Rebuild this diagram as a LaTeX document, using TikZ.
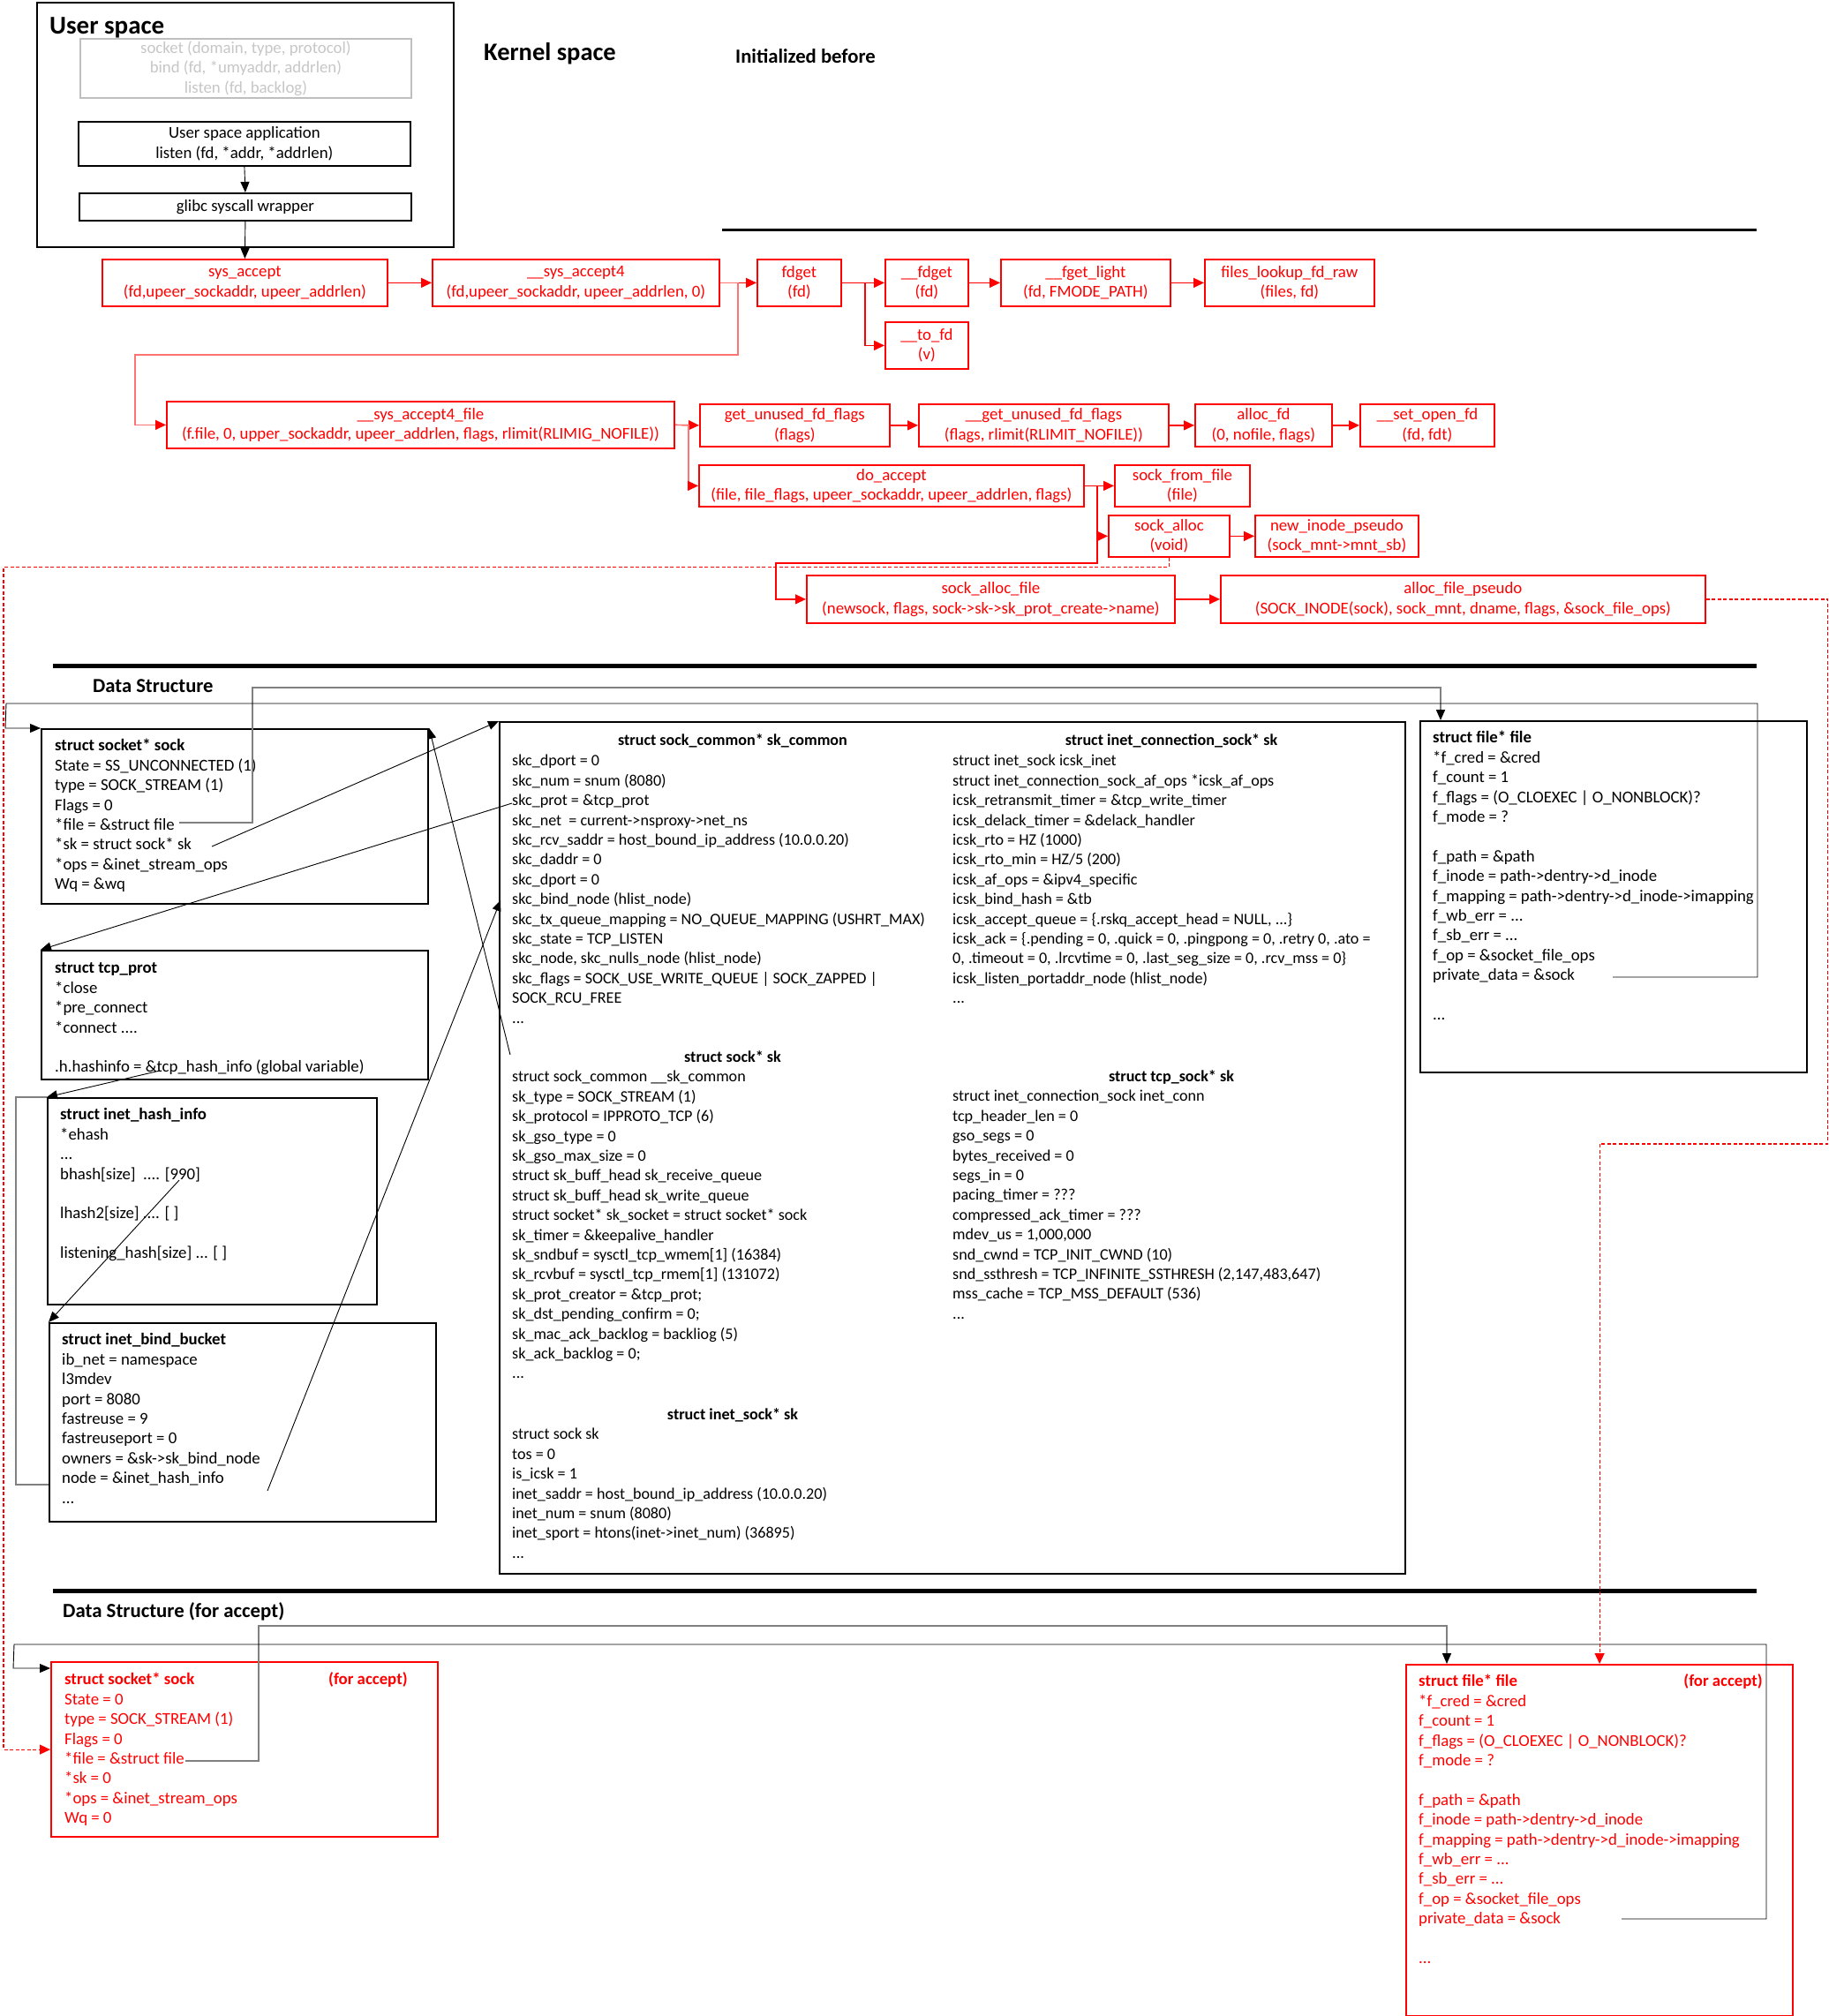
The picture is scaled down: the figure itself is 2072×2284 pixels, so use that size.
\documentclass[tikz,border=0pt]{standalone}
\usepackage{fontspec}
\setmainfont{Carlito}
\usepackage{tikz}
\usetikzlibrary{arrows.meta,calc}

\newcommand\fs{\fontsize{18.8}{22.4}\selectfont}
\newcommand\fsk{\fontsize{18.1}{22.4}\selectfont}

\begin{document}
\begin{tikzpicture}[x=1pt,y=-1pt,
		fn/.style={draw=red,line width=1.8pt,text=red,font=\fs,align=center,inner sep=0pt,anchor=north west},
		ub/.style={draw=black,line width=1.8pt,font=\fs,align=center,inner sep=0pt,anchor=north west},
		db/.style={draw=black,line width=2.2pt,inner sep=0pt,anchor=north west},
		wh/.style 2 args={minimum width=#1,minimum height=#2},
		tx/.style={font=\fs,align=left,inner sep=0pt,anchor=north west},
		txk/.style={font=\fsk,align=left,inner sep=0pt,anchor=north west},
		hdk/.style={font=\fsk\bfseries,inner sep=0pt},
		ar/.style={black,line width=0.9pt,-{Triangle[length=12pt,width=10pt]}},
		call/.style={red,line width=1.4pt,-{Triangle[length=12pt,width=11pt]}},
		callp/.style={red!55,line width=1.4pt,-{Triangle[length=12pt,width=11pt,color=red,fill=red]}},
		dsh/.style={red,line width=1.2pt,dash pattern=on 4pt off 2.5pt,-{Triangle[length=12pt,width=11pt]}},
		ptr/.style={black,line width=0.9pt,-{Triangle[length=12pt,width=10pt]}},
		gptr/.style={gray,line width=1.6pt,-{Triangle[length=12pt,width=10pt,color=black,fill=black]}}]
		\fill[white] (0,0) rectangle (2072,2284);
		\useasboundingbox (0,0) rectangle (2072,2284);

		\node[draw,line width=1.8pt,inner sep=0pt,anchor=north west,wh={472}{277}] (userbox) at (41,2) {};
		\node[anchor=west,inner sep=0pt,font=\fontsize{29}{34}\selectfont\bfseries] (ustitle) at (56,31) {User space};
		\node[draw=black!25,line width=1.8pt,text=black!22,font=\fs,align=center,inner sep=0pt,anchor=north west,wh={375}{67}] (sysseq) at (90,43) {socket (domain, type, protocol)\\bind (fd, *umyaddr, addrlen)\\listen (fd, backlog)};
		\node[ub,wh={376}{50}] (usapp) at (88,137) {User space application\\listen (fd, *addr, *addrlen)};
		\node[ub,wh={376}{31}] (glibc) at (89,218) {glibc syscall wrapper};
		\node[anchor=west,inner sep=0pt,font=\fontsize{28.5}{34}\selectfont\bfseries] (kstitle) at (548,61) {Kernel space};
		\node[anchor=west,inner sep=0pt,font=\fontsize{22.7}{27}\selectfont\bfseries] (inittitle) at (833,64) {Initialized before};
		\draw[line width=3pt] (818,260) -- (1990,260);

		\node[fn,wh={323}{53}] (sysacc) at (115,293) {sys\_accept\\(fd,upeer\_sockaddr, upeer\_addrlen)};
		\node[fn,wh={325}{53}] (sysacc4) at (489,293) {\_\_sys\_accept4\\(fd,upeer\_sockaddr, upeer\_addrlen, 0)};
		\node[fn,wh={95}{53}] (fdget) at (857,293) {fdget\\(fd)};
		\node[fn,wh={94}{53}] (ufdget) at (1002,293) {\_\_fdget\\(fd)};
		\node[fn,wh={94}{53}] (tofd) at (1002,364) {\_\_to\_fd\\(v)};
		\node[fn,wh={192}{53}] (fgetlight) at (1133,293) {\_\_fget\_light\\(fd, FMODE\_PATH)};
		\node[fn,wh={192}{53}] (lookup) at (1364,293) {files\_lookup\_fd\_raw\\(files, fd)};
		\node[fn,wh={575}{53}] (accfile) at (188,454) {\_\_sys\_accept4\_file\\(f.file, 0, upper\_sockaddr, upeer\_addrlen, flags, rlimit(RLIMIG\_NOFILE))};
		\node[fn,wh={215}{48}] (getfd) at (792,457) {get\_unused\_fd\_flags\\(flags)};
		\node[fn,wh={283}{48}] (ugetfd) at (1040,457) {\_\_get\_unused\_fd\_flags\\(flags, rlimit(RLIMIT\_NOFILE))};
		\node[fn,wh={155}{48}] (allocfd) at (1353,457) {alloc\_fd\\(0, nofile, flags)};
		\node[fn,wh={152}{48}] (setopen) at (1540,457) {\_\_set\_open\_fd\\(fd, fdt)};
		\node[fn,wh={436}{47}] (doacc) at (791,526) {do\_accept\\(file, file\_flags, upeer\_sockaddr, upeer\_addrlen, flags)};
		\node[fn,wh={153}{47}] (fromfile) at (1262,526) {sock\_from\_file\\(file)};
		\node[fn,wh={137}{47}] (sockalloc) at (1255,583) {sock\_alloc\\(void)};
		\node[fn,wh={185}{47}] (newinode) at (1421,583) {new\_inode\_pseudo\\(sock\_mnt->mnt\_sb)};
		\node[fn,wh={417}{54}] (allocfile) at (913,651) {sock\_alloc\_file\\(newsock, flags, sock->sk->sk\_prot\_create->name)};
		\node[fn,wh={549}{54}] (pseudo) at (1382,651) {alloc\_file\_pseudo\\(SOCK\_INODE(sock), sock\_mnt, dname, flags, \&sock\_file\_ops)};

		\draw[ar] (usapp.south) -- (glibc.north);
		\draw[ar] (glibc.south) -- (sysacc.north);
		\draw[call] (sysacc.east) -- (sysacc4.west);
		\draw[call] (sysacc4.east) -- (fdget.west);
		\draw[call] (fdget.east) -- (ufdget.west);
		\draw[call] (fdget.east) -- ++(26,0) |- (tofd.west);
		\draw[call] (ufdget.east) -- (fgetlight.west);
		\draw[call] (fgetlight.east) -- (lookup.west);
		\draw[callp] (sysacc4.east) -- ++(20,0) -- ++(0,81.5) -- ++(-683,0) |- (accfile.west);
		\draw[call] (accfile.east) -- (getfd.west);
		\draw[callp] (accfile.east) -- ++(15,0) |- (doacc.west);
		\draw[call] (getfd.east) -- (ugetfd.west);
		\draw[call] (ugetfd.east) -- (allocfd.west);
		\draw[call] (allocfd.east) -- (setopen.west);
		\draw[call] (doacc.east) -- (fromfile.west);
		\draw[call] (doacc.east) -- ++(14,0) |- (sockalloc.west);
		\draw[call] (doacc.east) -- ++(14,0) -- ++(0,87.5) -- ++(-364,0) |- (allocfile.west);
		\draw[call] (sockalloc.east) -- (newinode.west);
		\draw[call] (allocfile.east) -- (pseudo.west);

		\draw[line width=5pt] (60,754) -- (1990,754);
		\node[anchor=west,inner sep=0pt,font=\fontsize{22.6}{27}\selectfont\bfseries] (dstitle) at (105,777) {Data Structure};

		\node[db,wh={438}{198}] (sock) at (46,825) {};
		\node[tx] (socktx) at (62,835) {\strut\textbf{struct socket* sock}\\State = SS\_UNCONNECTED (1)\\type = SOCK\_STREAM (1)\\Flags = 0\\{}*file = \&struct file\\{}*sk = struct sock* sk\\{}*ops = \&inet\_stream\_ops\\Wq = \&wq};
		\node[db,wh={438}{146}] (tcpprot) at (46,1076) {};
		\node[tx] (tcptx) at (62,1087) {\strut\textbf{struct tcp\_prot}\\{}*close\\{}*pre\_connect\\{}*connect ....\\ \\.h.hashinfo = \&tcp\_hash\_info (global variable)};
		\node[db,wh={373}{234}] (hash) at (53,1243) {};
		\node[tx] (hashtx) at (68,1253) {\strut\textbf{struct inet\_hash\_info}\\{}*ehash\\...\\bhash[size]~ .... [990]\\ \\lhash2[size] .... [ ]\\ \\listening\_hash[size] ... [ ]};
		\node[db,wh={438}{225}] (bucket) at (55,1498) {};
		\node[tx] (buckettx) at (70,1508) {\strut\textbf{struct inet\_bind\_bucket}\\ib\_net = namespace\\l3mdev\\port = 8080\\fastreuse = 9\\fastreuseport = 0\\owners = \&sk->sk\_bind\_node\\node = \&inet\_hash\_info\\...};

		\node[db,wh={1026}{965}] (big) at (565,817) {};
		\node[hdk] (cmnhd) at (830,839) {struct sock\_common* sk\_common};
		\node[txk] (cmntx) at (580,852) {\strut skc\_dport = 0\\skc\_num = snum (8080)\\skc\_prot = \&tcp\_prot\\skc\_net~ = current->nsproxy->net\_ns\\skc\_rcv\_saddr = host\_bound\_ip\_address (10.0.0.20)\\skc\_daddr = 0\\skc\_dport = 0\\skc\_bind\_node (hlist\_node)\\skc\_tx\_queue\_mapping = NO\_QUEUE\_MAPPING (USHRT\_MAX)\\skc\_state = TCP\_LISTEN\\skc\_node, skc\_nulls\_node (hlist\_node)\\skc\_flags = SOCK\_USE\_WRITE\_QUEUE | SOCK\_ZAPPED |\\SOCK\_RCU\_FREE\\...};
		\node[hdk] (icskhd) at (1327,839) {struct inet\_connection\_sock* sk};
		\node[txk] (icsktx) at (1079,852) {\strut struct inet\_sock icsk\_inet\\struct inet\_connection\_sock\_af\_ops *icsk\_af\_ops\\icsk\_retransmit\_timer = \&tcp\_write\_timer\\icsk\_delack\_timer = \&delack\_handler\\icsk\_rto = HZ (1000)\\icsk\_rto\_min = HZ/5 (200)\\icsk\_af\_ops = \&ipv4\_specific\\icsk\_bind\_hash = \&tb\\icsk\_accept\_queue = \{.rskq\_accept\_head = NULL, ...\}\\icsk\_ack = \{.pending = 0, .quick = 0, .pingpong = 0, .retry 0, .ato =\\0, .timeout = 0, .lrcvtime = 0, .last\_seg\_size = 0, .rcv\_mss = 0\}\\icsk\_listen\_portaddr\_node (hlist\_node)\\...};
		\node[hdk] (skhd) at (830,1197) {struct sock* sk};
		\node[txk] (sktx) at (580,1210) {\strut struct sock\_common \_\_sk\_common\\sk\_type = SOCK\_STREAM (1)\\sk\_protocol = IPPROTO\_TCP (6)\\sk\_gso\_type = 0\\sk\_gso\_max\_size = 0\\struct sk\_buff\_head sk\_receive\_queue\\struct sk\_buff\_head sk\_write\_queue\\struct socket* sk\_socket = struct socket* sock\\sk\_timer = \&keepalive\_handler\\sk\_sndbuf = sysctl\_tcp\_wmem[1] (16384)\\sk\_rcvbuf = sysctl\_tcp\_rmem[1] (131072)\\sk\_prot\_creator = \&tcp\_prot;\\sk\_dst\_pending\_confirm = 0;\\sk\_mac\_ack\_backlog = backliog (5)\\sk\_ack\_backlog = 0;\\...};
		\node[hdk] (tcpskhd) at (1327,1220) {struct tcp\_sock* sk};
		\node[txk] (tcpsktx) at (1079,1232) {\strut struct inet\_connection\_sock inet\_conn\\tcp\_header\_len = 0\\gso\_segs = 0\\bytes\_received = 0\\segs\_in = 0\\pacing\_timer = ???\\compressed\_ack\_timer = ???\\mdev\_us = 1,000,000\\snd\_cwnd = TCP\_INIT\_CWND (10)\\snd\_ssthresh = TCP\_INFINITE\_SSTHRESH (2,147,483,647)\\mss\_cache = TCP\_MSS\_DEFAULT (536)\\...};
		\node[hdk] (inethd) at (830,1603) {struct inet\_sock* sk};
		\node[txk] (inettx) at (580,1615) {\strut struct sock sk\\tos = 0\\is\_icsk = 1\\inet\_saddr = host\_bound\_ip\_address (10.0.0.20)\\inet\_num = snum (8080)\\inet\_sport = htons(inet->inet\_num) (36895)\\...};

		\node[db,wh={438}{398}] (file) at (1608,816) {};
		\node[tx] (filetx) at (1623,826) {\strut\textbf{struct file* file}\\{}*f\_cred = \&cred\\f\_count = 1\\f\_flags = (O\_CLOEXEC | O\_NONBLOCK)?\\f\_mode = ?\\ \\f\_path = \&path\\f\_inode = path->dentry->d\_inode\\f\_mapping = path->dentry->d\_inode->imapping\\f\_wb\_err = ...\\f\_sb\_err = ...\\f\_op = \&socket\_file\_ops\\private\_data = \&sock\\ \\...};

		\coordinate (sfile) at (203,932);
		\coordinate (filetop) at (1632,816);
		\coordinate (fpriv) at (1827,1107);
		\coordinate (sksk) at (240,959);
		\coordinate (skcprot) at (580,910);
		\coordinate (hinfo) at (181,1213);
		\coordinate (bhash) at (203,1337);
		\coordinate (bnode) at (55,1682);
		\coordinate (owners) at (303,1689);
		\coordinate (bindnode) at (567,1020);
		\coordinate (sksock) at (578,1195);
		\draw[gptr] (sfile) -- (286,932) -- (286,779) -| (filetop);
		\draw[ptr] (fpriv) -- (1991,1107) -- (1991,797) -- (7,797) -- (6,825) -- (sock.north west);
		\draw[ptr] (sksk) -- (big.north west);
		\draw[ptr] (skcprot) -- (tcpprot.north west);
		\draw[ptr] (hinfo) -- (hash.north west);
		\draw[ptr] (bhash) -- (bucket.north west);
		\draw[gray,line width=1.6pt] (bnode) -- (18,1682) -- (18,1243) -- (hash.north west);
		\draw[ptr] (owners) -- (bindnode);
		\draw[ptr] (sksock) -- (sock.north east);

		\draw[line width=5pt] (60,1802) -- (1990,1802);
		\node[anchor=west,inner sep=0pt,font=\fontsize{22.8}{27}\selectfont\bfseries] (datitle) at (71,1826) {Data Structure (for accept)};

		\node[db,draw=red,wh={438}{198}] (sockacc) at (57,1882) {};
		\node[tx,text=red] (asocktx) at (73,1893) {\strut\textbf{struct socket* sock}\\State = 0\\type = SOCK\_STREAM (1)\\Flags = 0\\{}*file = \&struct file\\{}*sk = 0\\{}*ops = \&inet\_stream\_ops\\Wq = 0};
		\node[anchor=west,inner sep=0pt,text=red,font=\fs\bfseries] (asockfa) at (372,1903) {(for accept)};
		\node[db,draw=red,wh={438}{398}] (fileacc) at (1592,1885) {};
		\node[tx,text=red] (afiletx) at (1607,1895) {\strut\textbf{struct file* file}\\{}*f\_cred = \&cred\\f\_count = 1\\f\_flags = (O\_CLOEXEC | O\_NONBLOCK)?\\f\_mode = ?\\ \\f\_path = \&path\\f\_inode = path->dentry->d\_inode\\f\_mapping = path->dentry->d\_inode->imapping\\f\_wb\_err = ...\\f\_sb\_err = ...\\f\_op = \&socket\_file\_ops\\private\_data = \&sock\\ \\...};
		\node[anchor=east,inner sep=0pt,text=red,font=\fs\bfseries] (afilefa) at (1997,1905) {(for accept)};

		\coordinate (afile) at (210,1995);
		\coordinate (afiletop) at (1639,1885);
		\coordinate (apriv) at (1837,2174);
		\draw[gptr] (afile) -- (293,1995) -- (293,1842) -| (afiletop);
		\draw[ptr] (apriv) -- (2001,2174) -- (2001,1863) -- (16,1863) -- (15,1890) -- ([yshift=-8pt]sockacc.north west);

		\draw[dsh] (sockalloc.south) -- ++(0,11) -- ++(-1320.5,0) |- (sockacc.west);
		\draw[dsh] (pseudo.east) -- ++(138,0) -- ++(0,617) -| (fileacc.north);
\end{tikzpicture}
\end{document}
